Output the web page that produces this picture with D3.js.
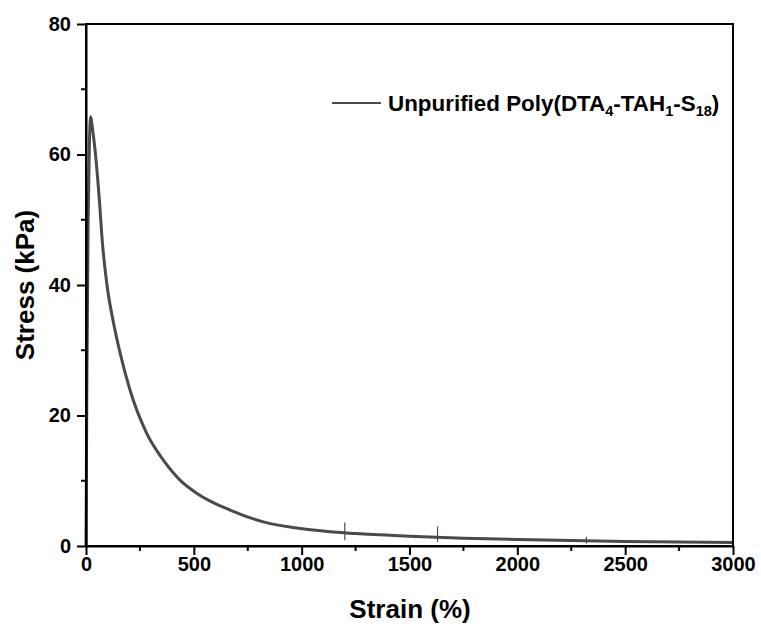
<!DOCTYPE html>
<html>
<head>
<meta charset="utf-8">
<script src="https://cdn.jsdelivr.net/npm/d3@7"></script>
<style>
  body { margin: 0; background: #fff; }
  text { font-family: "Liberation Sans", Arial, sans-serif; font-weight: bold; }
</style>
</head>
<body>
<div id="chart"></div>
<script>
// strain (%) vs stress (kPa)
const strain = [0, 4, 10, 16, 22, 28, 42, 62, 76, 96, 127, 158, 204, 281, 358, 436, 513, 668, 822, 1054,
    1250, 1500, 1750, 2000, 2250, 2500, 2750, 3000];
const stress = [0, 25, 50, 62, 65.8, 64.5, 60.7, 53.0, 46.5, 40.3, 34.3, 29.6, 23.9, 17.3, 13.2, 10.1, 8.1, 5.5, 3.7, 2.45,
    1.9, 1.5, 1.2, 1.0, 0.85, 0.7, 0.6, 0.55];
// small noise spikes in the record
const spikeStrain = [1200, 1630, 2320];
const spikeLow = [0.9, 0.6, 0.4];
const spikeHigh = [3.6, 3.0, 1.4];
const xTicks = [0, 500, 1000, 1500, 2000, 2500, 3000];
const yTicks = [0, 20, 40, 60, 80];

const margin = { top: 24, right: 28, bottom: 86, left: 86 };
const width = 761 - margin.left - margin.right;
const height = 632 - margin.top - margin.bottom;

const svg = d3.select("#chart").append("svg")
    .attr("width", 761)
    .attr("height", 632)
    .append("g")
    .attr("transform", `translate(${margin.left}, ${margin.top})`);

const x = d3.scaleLinear().domain([0, 3000]).range([0, width]);
const y = d3.scaleLinear().domain([0, 80]).range([height, 0]);

const data = strain.map((s, i) => ({ s: s, v: stress[i] }));

// curve
svg.append("path")
    .datum(data)
    .attr("fill", "none")
    .attr("stroke", "#4a4a4a")
    .attr("stroke-width", 3)
    .attr("stroke-linejoin", "round")
    .attr("d", d3.line().x(d => x(d.s)).y(d => y(d.v)).curve(d3.curveMonotoneX));

svg.selectAll(".spike").data(spikeStrain).join("line")
    .attr("class", "spike")
    .attr("x1", d => x(d)).attr("x2", d => x(d))
    .attr("y1", (d, i) => y(spikeLow[i]))
    .attr("y2", (d, i) => y(spikeHigh[i]))
    .attr("stroke", "#4a4a4a")
    .attr("stroke-width", 1.2);

// frame
svg.append("rect")
    .attr("width", width)
    .attr("height", height)
    .attr("fill", "none")
    .attr("stroke", "#000")
    .attr("stroke-width", 2);

// minor ticks
const minorX = d3.range(250, 3000, 500);
const minorY = d3.range(10, 80, 20);
svg.selectAll(".mx").data(minorX).join("line")
    .attr("x1", d => x(d)).attr("x2", d => x(d))
    .attr("y1", height).attr("y2", height + 5)
    .attr("stroke", "#000").attr("stroke-width", 2);
svg.selectAll(".my").data(minorY).join("line")
    .attr("x1", 0).attr("x2", -5)
    .attr("y1", d => y(d)).attr("y2", d => y(d))
    .attr("stroke", "#000").attr("stroke-width", 2);

// axes
const xAxis = svg.append("g")
    .attr("transform", `translate(0, ${height})`)
    .call(d3.axisBottom(x).tickValues(xTicks).tickFormat(d3.format("d")).tickSize(9).tickSizeOuter(0));
const yAxis = svg.append("g")
    .call(d3.axisLeft(y).tickValues(yTicks).tickFormat(d3.format("d")).tickSize(9).tickSizeOuter(0));

[xAxis, yAxis].forEach(g => {
    g.select(".domain").attr("stroke-width", 2);
    g.selectAll(".tick line").attr("stroke-width", 2);
    g.selectAll(".tick text")
        .style("font-family", "'Liberation Sans', Arial, sans-serif")
        .style("font-weight", "bold")
        .style("font-size", "20px")
        .attr("fill", "#000");
});
xAxis.selectAll(".tick text").attr("y", 11);
yAxis.selectAll(".tick text").attr("x", -15);

// axis titles
svg.append("text")
    .attr("x", 410 - margin.left)
    .attr("y", height + 72)
    .attr("text-anchor", "middle")
    .style("font-size", "26px")
    .text("Strain (%)");

svg.append("text")
    .attr("transform", `translate(${-52}, ${285 - margin.top}) rotate(-90)`)
    .attr("text-anchor", "middle")
    .style("font-size", "26px")
    .text("Stress (kPa)");

// legend
const lg = svg.append("g").attr("transform", `translate(${332 - margin.left}, ${103 - margin.top})`);
lg.append("line")
    .attr("x1", 0).attr("x2", 49)
    .attr("stroke", "#4a4a4a").attr("stroke-width", 2);
const lt = lg.append("text")
    .attr("x", 56)
    .attr("dy", "0.36em")
    .style("font-size", "22.4px");
lt.append("tspan").text("Unpurified Poly(DTA");
lt.append("tspan").attr("dy", 5).style("font-size", "14.5px").text("4");
lt.append("tspan").attr("dy", -5).text("-TAH");
lt.append("tspan").attr("dy", 5).style("font-size", "14.5px").text("1");
lt.append("tspan").attr("dy", -5).text("-S");
lt.append("tspan").attr("dy", 5).style("font-size", "14.5px").text("18");
lt.append("tspan").attr("dy", -5).text(")");
</script>
</body>
</html>
